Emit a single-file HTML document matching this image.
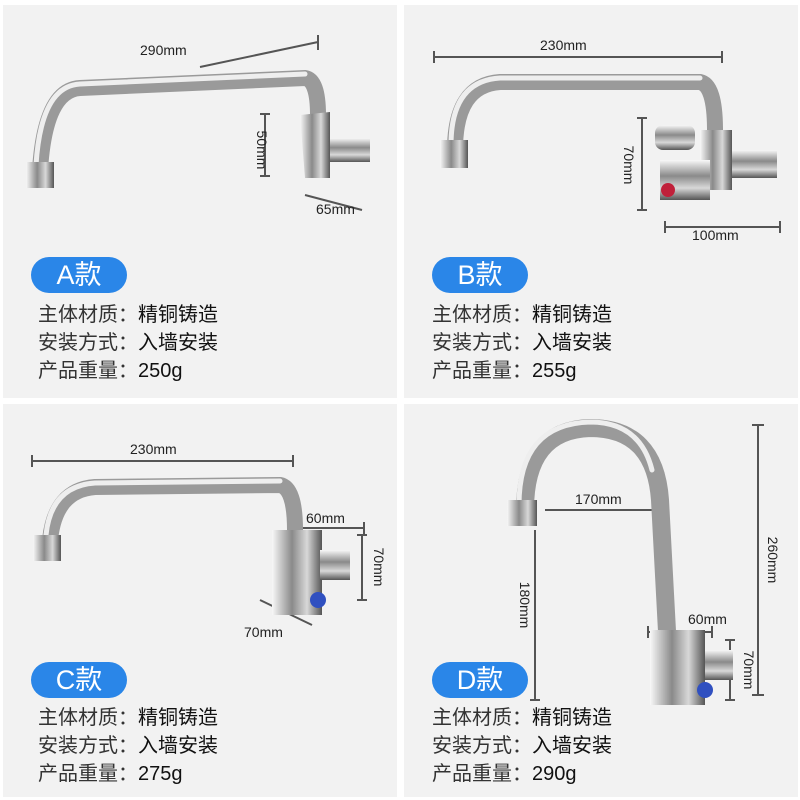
<!DOCTYPE html>
<html><head><meta charset="utf-8"><style>
body{margin:0;width:800px;height:800px;background:#fff;position:relative;overflow:hidden;font-family:"Liberation Sans","Noto Sans CJK SC",sans-serif}
.p{position:absolute;background:#f2f2f2;width:394px;height:393px}
.pill{position:absolute;background:#2a86e8;color:#fff;border-radius:18px;width:96px;height:36px;font-size:27px;line-height:36px;text-align:center}
.t{position:absolute;font-size:20px;line-height:28px;color:#333;white-space:nowrap}
.t b{font-weight:normal;color:#111}
svg{position:absolute;left:0;top:0}
.d{font-size:14px;fill:#222;font-family:"Liberation Sans",sans-serif}
</style></head><body>
<div class="p" style="left:3px;top:5px"></div>
<div class="p" style="left:404px;top:5px"></div>
<div class="p" style="left:3px;top:404px"></div>
<div class="p" style="left:404px;top:404px"></div>

<div class="pill" style="left:31px;top:257px">A款</div>
<div class="pill" style="left:432px;top:257px">B款</div>
<div class="pill" style="left:31px;top:662px">C款</div>
<div class="pill" style="left:432px;top:662px">D款</div>

<div class="t" style="left:38px;top:301px">主体材质：<b>精铜铸造</b><br>安装方式：<b>入墙安装</b><br>产品重量：<b>250g</b></div>
<div class="t" style="left:432px;top:301px">主体材质：<b>精铜铸造</b><br>安装方式：<b>入墙安装</b><br>产品重量：<b>255g</b></div>
<div class="t" style="left:38px;top:704px">主体材质：<b>精铜铸造</b><br>安装方式：<b>入墙安装</b><br>产品重量：<b>275g</b></div>
<div class="t" style="left:432px;top:704px">主体材质：<b>精铜铸造</b><br>安装方式：<b>入墙安装</b><br>产品重量：<b>290g</b></div>

<svg width="800" height="800">
<defs>
<linearGradient id="c" x1="0" y1="0" x2="0" y2="1"><stop offset="0" stop-color="#f8f8f8"/><stop offset=".4" stop-color="#8a8a8a"/><stop offset=".7" stop-color="#d8d8d8"/><stop offset="1" stop-color="#555"/></linearGradient>
<linearGradient id="v" x1="0" y1="0" x2="1" y2="0"><stop offset="0" stop-color="#f8f8f8"/><stop offset=".4" stop-color="#8a8a8a"/><stop offset=".7" stop-color="#d8d8d8"/><stop offset="1" stop-color="#555"/></linearGradient>
</defs>
<g stroke="#555" stroke-width="2" fill="none">
<path d="M200 67 L318 42 M318 35 V50"/>
<path d="M265 114 V176 M260 114 H270 M260 176 H270"/>
<path d="M305 195 L362 210"/>
<path d="M434 57 H722 M434 51 V63 M722 51 V63"/>
<path d="M642 118 V210 M637 118 H647 M637 210 H647"/>
<path d="M665 227 H780 M665 221 V233 M780 221 V233"/>
<path d="M32 461 H293 M32 455 V467 M293 455 V467"/>
<path d="M300 528 H364 M364 522 V534"/>
<path d="M362 535 V600 M357 535 H367 M357 600 H367"/>
<path d="M260 600 L312 625"/>
<path d="M545 510 H668 M668 504 V516"/>
<path d="M535 530 V700 M530 700 H540"/>
<path d="M758 425 V695 M752 425 H764 M752 695 H764"/>
<path d="M648 632 H712 M648 626 V638 M712 626 V638"/>
<path d="M730 640 V700 M725 640 H735 M725 700 H735"/>
</g>
<g class="d">
<text x="140" y="55">290mm</text>
<text x="257" y="150" transform="rotate(90 257 150)" text-anchor="middle">50mm</text>
<text x="316" y="214">65mm</text>
<text x="540" y="50">230mm</text>
<text x="624" y="165" transform="rotate(90 624 165)" text-anchor="middle">70mm</text>
<text x="692" y="240">100mm</text>
<text x="130" y="454">230mm</text>
<text x="306" y="523">60mm</text>
<text x="374" y="567" transform="rotate(90 374 567)" text-anchor="middle">70mm</text>
<text x="244" y="637">70mm</text>
<text x="575" y="504">170mm</text>
<text x="520" y="605" transform="rotate(90 520 605)" text-anchor="middle">180mm</text>
<text x="768" y="560" transform="rotate(90 768 560)" text-anchor="middle">260mm</text>
<text x="688" y="624">60mm</text>
<text x="744" y="670" transform="rotate(90 744 670)" text-anchor="middle">70mm</text>
</g>
<g fill="none" stroke-linecap="round">
<g stroke="#9a9a9a" stroke-width="16">
<path d="M40 170 Q45 90 80 88 L305 78 Q318 80 318 115"/>
<path d="M455 150 Q455 85 500 82 L700 82 Q715 85 715 130"/>
<path d="M50 540 Q55 490 95 487 L280 485 Q295 488 295 530"/>
<path d="M525 510 Q525 430 590 428 Q655 428 660 500 L668 650" stroke-width="18"/>
</g>
<g stroke="#eee" stroke-width="5">
<path d="M36 165 Q41 86 80 84 L305 74"/>
<path d="M451 145 Q451 81 500 78 L700 78"/>
<path d="M46 535 Q51 486 95 483 L280 481"/>
<path d="M519 505 Q519 424 590 422 Q640 422 652 470"/>
</g>
<rect x="26" y="162" width="28" height="26" fill="url(#v)"/>
<path d="M300 115 L330 112 L330 178 L305 178 Z" fill="url(#v)"/>
<rect x="330" y="138" width="40" height="24" fill="url(#c)"/>
<rect x="440" y="140" width="28" height="28" fill="url(#v)"/>
<rect x="700" y="130" width="32" height="60" fill="url(#v)"/>
<rect x="655" y="125" width="40" height="25" rx="8" fill="url(#c)"/>
<rect x="660" y="160" width="50" height="40" fill="url(#c)"/>
<rect x="732" y="150" width="45" height="28" fill="url(#c)"/>
<circle cx="668" cy="190" r="7" fill="#c0203a"/>
<rect x="33" y="535" width="28" height="26" fill="url(#v)"/>
<rect x="272" y="530" width="50" height="85" fill="url(#v)"/>
<rect x="320" y="550" width="30" height="30" fill="url(#c)"/>
<circle cx="318" cy="600" r="8" fill="#3050c0"/>
<rect x="507" y="500" width="30" height="26" fill="url(#v)"/>
<rect x="650" y="630" width="55" height="75" fill="url(#v)"/>
<rect x="705" y="650" width="28" height="30" fill="url(#c)"/>
<circle cx="705" cy="690" r="8" fill="#3050c0"/>
</g>
</svg>
</body></html>
